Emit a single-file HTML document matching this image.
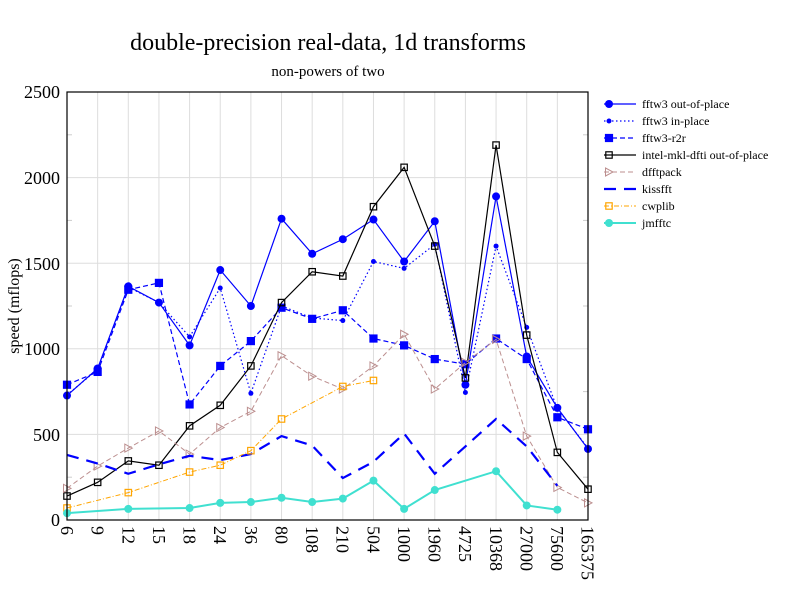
<!DOCTYPE html>
<html><head><meta charset="utf-8"><style>
html,body{margin:0;padding:0;background:#fff}
svg{display:block;font-family:"Liberation Serif",serif}
</style></head><body>
<svg id="s" width="792" height="612" viewBox="0 0 792 612" xmlns="http://www.w3.org/2000/svg">
<rect width="792" height="612" fill="#fff"/>
<text x="328" y="50" font-size="24" text-anchor="middle">double-precision real-data, 1d transforms</text>
<text x="328" y="76" font-size="15" text-anchor="middle">non-powers of two</text>
<g id="grid" stroke="#dddddd" stroke-width="1"></g>
<g font-size="18" text-anchor="end">
<text x="60" y="526">0</text>
<text x="60" y="441">500</text>
<text x="60" y="355">1000</text>
<text x="60" y="270">1500</text>
<text x="60" y="184">2000</text>
<text x="60" y="98">2500</text>
</g>
<text transform="translate(19,306) rotate(-90)" font-size="16" text-anchor="middle">speed (mflops)</text>
<g font-size="18" id="xl">
<text transform="translate(61,526) rotate(90)">6</text>
<text transform="translate(91.6,526) rotate(90)">9</text>
<text transform="translate(122.3,526) rotate(90)">12</text>
<text transform="translate(152.9,526) rotate(90)">15</text>
<text transform="translate(183.5,526) rotate(90)">18</text>
<text transform="translate(214.2,526) rotate(90)">24</text>
<text transform="translate(244.8,526) rotate(90)">36</text>
<text transform="translate(275.4,526) rotate(90)">80</text>
<text transform="translate(306,526) rotate(90)">108</text>
<text transform="translate(336.7,526) rotate(90)">210</text>
<text transform="translate(367.3,526) rotate(90)">504</text>
<text transform="translate(397.9,526) rotate(90)">1000</text>
<text transform="translate(428.6,526) rotate(90)">1960</text>
<text transform="translate(459.2,526) rotate(90)">4725</text>
<text transform="translate(489.8,526) rotate(90)">10368</text>
<text transform="translate(520.5,526) rotate(90)">27000</text>
<text transform="translate(551.1,526) rotate(90)">75600</text>
<text transform="translate(581.7,526) rotate(90)">165375</text>
</g>
<g id="series"></g>
<rect x="67" y="92" width="521" height="428" fill="none" stroke="#000" stroke-width="1.2"/>
<g font-size="12">
<text x="642" y="108">fftw3 out-of-place</text>
<text x="642" y="125">fftw3 in-place</text>
<text x="642" y="142">fftw3-r2r</text>
<text x="642" y="159">intel-mkl-dfti out-of-place</text>
<text x="642" y="176">dfftpack</text>
<text x="642" y="193">kissfft</text>
<text x="642" y="210">cwplib</text>
<text x="642" y="227">jmfftc</text>
</g>
<g id="leg"></g>
</svg>
<script>
const NS="http://www.w3.org/2000/svg";
const X=i=>67+i*521/17, Y=v=>520-v*428/2500;
const g=document.getElementById('grid');
function el(p,t,a){const e=document.createElementNS(NS,t);for(const k in a)e.setAttribute(k,a[k]);p.appendChild(e);return e;}
for(let i=1;i<17;i++)el(g,'line',{x1:X(i),x2:X(i),y1:92,y2:520});
for(let v=500;v<2500;v+=500)el(g,'line',{x1:67,x2:588,y1:Y(v),y2:Y(v)});
for(let v=250;v<2500;v+=500){el(g,'line',{x1:67,x2:72,y1:Y(v),y2:Y(v),stroke:'#ccc'});el(g,'line',{x1:583,x2:588,y1:Y(v),y2:Y(v),stroke:'#ccc'});}
const N=null;
const S=[
 {c:'#0000ff',d:'',w:1.2,m:'circle',r:4,v:[727,885,1365,1270,1020,1460,1250,1760,1555,1640,1755,1510,1745,790,1890,955,655,415]},
 {c:'#0000ff',d:'1.5,2.5',w:1.2,m:'circle',r:2.5,v:[730,880,1360,1270,1070,1355,740,1250,1180,1165,1510,1470,1610,745,1600,1125,650,420]},
 {c:'#0000ff',d:'5,3',w:1.2,m:'sq',r:3.5,f:'#0000ff',v:[790,865,1345,1385,675,900,1045,1240,1175,1225,1060,1020,940,910,1060,940,600,530]},
 {c:'#000',d:'',w:1.2,m:'sq',r:3.2,f:'none',v:[140,220,345,320,550,670,900,1270,1450,1425,1830,2060,1600,830,2190,1080,395,180]},
 {c:'#bc8f8f',d:'5,3',w:1,m:'tri',r:4,v:[185,315,420,520,385,540,635,960,840,765,900,1085,765,920,1055,490,190,100]},
 {c:'#0000ff',d:'12,8',w:2.2,m:'',v:[380,330,270,325,375,350,385,490,435,245,340,505,270,430,590,430,200,N]},
 {c:'#ffa500',d:'5,2,1,2',w:1,m:'sq',r:3.2,f:'none',v:[70,N,160,N,280,320,405,590,N,780,815,N,N,N,N,N,N,N]},
 {c:'#40e0d0',d:'',w:2,m:'circle',r:4,v:[40,N,65,N,70,100,105,130,105,125,230,65,175,N,285,85,60,N]},
];
const sg=document.getElementById('series'), lg=document.getElementById('leg');
function mark(p,s,x,y){
 if(s.m==='circle')el(p,'circle',{cx:x,cy:y,r:s.r,fill:s.c});
 else if(s.m==='sq')el(p,'rect',{x:x-s.r,y:y-s.r,width:2*s.r,height:2*s.r,fill:s.f==='none'?'#fff':s.f,'fill-opacity':s.f==='none'?0.01:1,stroke:s.c,'stroke-width':1.2});
 else if(s.m==='tri')el(p,'polygon',{points:`${x-3.5},${y-4} ${x-3.5},${y+4} ${x+4},${y}`,fill:'none',stroke:s.c,'stroke-width':1});
}
S.forEach((s,k)=>{
 const pts=[];s.v.forEach((v,i)=>{if(v!==N)pts.push([X(i),Y(v)]);});
 el(sg,'polyline',{points:pts.map(p=>p.join(',')).join(' '),fill:'none',stroke:s.c,'stroke-width':s.w,'stroke-dasharray':s.d||'none'});
 pts.forEach(p=>mark(sg,s,p[0],p[1]));
 const ly=104+k*17;
 el(lg,'line',{x1:604,x2:636,y1:ly,y2:ly,stroke:s.c,'stroke-width':s.w,'stroke-dasharray':s.d||'none'});
 mark(lg,s,609,ly);
});
</script>
</body></html>
